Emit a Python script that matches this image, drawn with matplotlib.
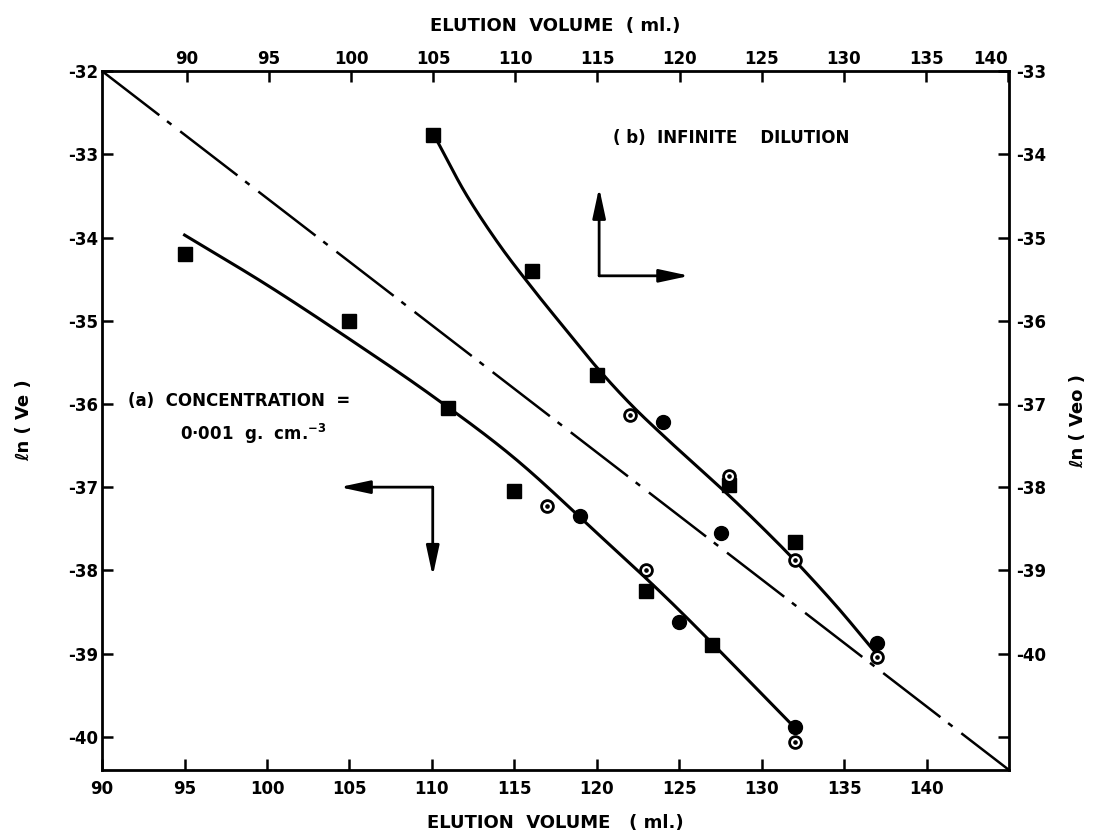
import numpy as np
import matplotlib
matplotlib.use("Agg")
import matplotlib.pyplot as plt

plt.rcParams['font.family'] = ['DejaVu Sans']
plt.rcParams['font.weight'] = 'bold'
plt.rcParams['axes.unicode_minus'] = False
plt.rcParams['lines.scale_dashes'] = False

# ---- (a) concentration 0.001 g/cm3 : bottom x axis / left y axis ----
a_square_x = [95, 105, 111, 115, 123, 127]
a_square_y = [-34.2, -35.0, -36.05, -37.05, -38.25, -38.9]
a_filled_x = [119, 125, 132]
a_filled_y = [-37.35, -38.62, -39.88]
a_open_x = [117, 123, 132]
a_open_y = [-37.23, -38.0, -40.06]
a_curve_x = [95, 100, 105, 110, 115, 120, 125, 132]
a_curve_y = [-33.97, -34.57, -35.22, -35.9, -36.65, -37.55, -38.48, -39.89]

# ---- (b) infinite dilution : top x axis / right y axis ----
b_square_x = [105, 111, 115, 123, 127]
b_square_y = [-33.77, -35.4, -36.65, -37.98, -38.66]
b_filled_x = [119, 122.5, 132]
b_filled_y = [-37.22, -38.55, -39.87]
b_open_x = [117, 123, 127, 132]
b_open_y = [-37.13, -37.87, -38.88, -40.04]
b_curve_x = [105.3, 107, 109, 111, 113, 115, 117, 119, 121, 123, 125, 127, 129.5, 131.8]
b_curve_y = [-33.86, -34.48, -35.08, -35.6, -36.09, -36.57, -37.0, -37.38,
             -37.74, -38.1, -38.48, -38.88, -39.42, -39.96]

# reference diagonal (dash-dot)
diag_x = [90, 145]
diag_y = [-32, -40.4]

bottom_ticks = [90, 95, 100, 105, 110, 115, 120, 125, 130, 135, 140]
top_ticks = [90, 95, 100, 105, 110, 115, 120, 125, 130, 135, 140]
left_ticks = [-32, -33, -34, -35, -36, -37, -38, -39, -40]
right_ticks = [-33, -34, -35, -36, -37, -38, -39, -40, -41]
right_labels = ['-33', '-34', '-35', '-36', '-37', '-38', '-39', '-40', '']


def smooth(xs, ys, n=30):
    """Catmull-Rom curve through the given knots."""
    p = np.column_stack([xs, ys]).astype(float)
    p = np.vstack([2 * p[0] - p[1], p, 2 * p[-1] - p[-2]])
    out = []
    t = np.linspace(0, 1, n, endpoint=False)[:, None]
    for i in range(1, len(p) - 2):
        p0, p1, p2, p3 = p[i - 1], p[i], p[i + 1], p[i + 2]
        seg = 0.5 * ((2 * p1) + (-p0 + p2) * t
                     + (2 * p0 - 5 * p1 + 4 * p2 - p3) * t ** 2
                     + (-p0 + 3 * p1 - 3 * p2 + p3) * t ** 3)
        out.append(seg)
    out.append(p[-2][None, :])
    out = np.vstack(out)
    return out[:, 0], out[:, 1]


fig = plt.figure(figsize=(10.98, 8.4), dpi=100)
pos = [0.093, 0.0833, 0.826, 0.832]
ax = fig.add_axes(pos)
axb = fig.add_axes(pos, frameon=False)

ax.set_xlim(90, 145)
ax.set_ylim(-40.4, -32)
axb.set_xlim(84.85, 140.05)
axb.set_ylim(-41.4, -33)

for s in ax.spines.values():
    s.set_linewidth(2.0)

tick_kw = dict(direction='in', length=8, width=1.8, labelsize=12)
ax.tick_params(axis='x', which='both', bottom=True, top=False, pad=7, **tick_kw)
ax.tick_params(axis='y', which='both', left=True, right=False, pad=3, **tick_kw)
axb.xaxis.tick_top()
axb.yaxis.tick_right()
axb.tick_params(axis='x', pad=2, **tick_kw)
axb.tick_params(axis='y', pad=5, **tick_kw)

ax.set_xticks(bottom_ticks)
ax.set_xticklabels([str(v) for v in bottom_ticks])
ax.set_yticks(left_ticks)
ax.set_yticklabels([str(v) for v in left_ticks])
axb.set_xticks(top_ticks)
top_lbls = axb.set_xticklabels([str(v) for v in top_ticks])
# keep the last top label clear of the corner label on the right axis
top_lbls[-1].set_horizontalalignment('right')
axb.set_yticks(right_ticks)
axb.set_yticklabels(right_labels)

lab_kw = dict(fontsize=13, fontweight='bold')
ax.set_xlabel("ELUTION  VOLUME   ( ml.)", labelpad=12, **lab_kw)
ax.set_ylabel("ℓn ( Ve )", labelpad=25, **lab_kw)
axb.xaxis.set_label_position('top')
axb.yaxis.set_label_position('right')
axb.set_xlabel("ELUTION  VOLUME  ( ml.)", labelpad=14, **lab_kw)
axb.set_ylabel("ℓn ( Veo )", labelpad=17, **lab_kw)

# dash-dot reference diagonal
ax.plot(diag_x, diag_y, color='black', lw=1.8,
        linestyle=(0, (52, 7, 4, 8)), solid_capstyle='butt', zorder=2)

# fitted curves
cx, cy = smooth(a_curve_x, a_curve_y)
ax.plot(cx, cy, color='black', lw=2.2, zorder=3)
cx, cy = smooth(b_curve_x, b_curve_y)
axb.plot(cx, cy, color='black', lw=2.2, zorder=3)


def draw_points(axis, sx, sy, fx, fy, ox, oy):
    axis.plot(sx, sy, 's', color='black', ms=9.5, zorder=4)
    axis.plot(fx, fy, 'o', color='black', ms=10, zorder=4)
    axis.plot(ox, oy, 'o', mfc='white', mec='black', mew=2.0, ms=8.5, zorder=5)
    axis.plot(ox, oy, 'o', color='black', ms=2.3, zorder=6)


draw_points(ax, a_square_x, a_square_y, a_filled_x, a_filled_y, a_open_x, a_open_y)
draw_points(axb, b_square_x, b_square_y, b_filled_x, b_filled_y, b_open_x, b_open_y)

arrow_kw = dict(arrowstyle='-|>,head_length=1.3,head_width=0.28', color='black',
                lw=2.0, shrinkA=0, shrinkB=0, mutation_scale=14)
# (a) arrows -> left / bottom axes
ax.annotate('', xy=(104.4, -37.0), xytext=(110.05, -37.0), arrowprops=arrow_kw)
ax.annotate('', xy=(110.05, -38.07), xytext=(110.05, -37.0), arrowprops=arrow_kw)
# (b) arrows -> top / right axes
axb.annotate('', xy=(115.1, -34.4), xytext=(115.1, -35.46), arrowprops=arrow_kw)
axb.annotate('', xy=(120.6, -35.46), xytext=(115.1, -35.46), arrowprops=arrow_kw)

txt_kw = dict(fontsize=12, fontweight='bold', color='black')
ax.text(91.6, -35.96, "(a)  CONCENTRATION  =", va='center', ha='left', **txt_kw)
ax.text(94.7, -36.36, r"0·001  g.  cm.$^{\mathbf{-3}}$", va='center', ha='left', **txt_kw)
ax.text(121.0, -32.8, "( b)  INFINITE    DILUTION", va='center', ha='left', **txt_kw)

fig.savefig("out.png", dpi=100)
